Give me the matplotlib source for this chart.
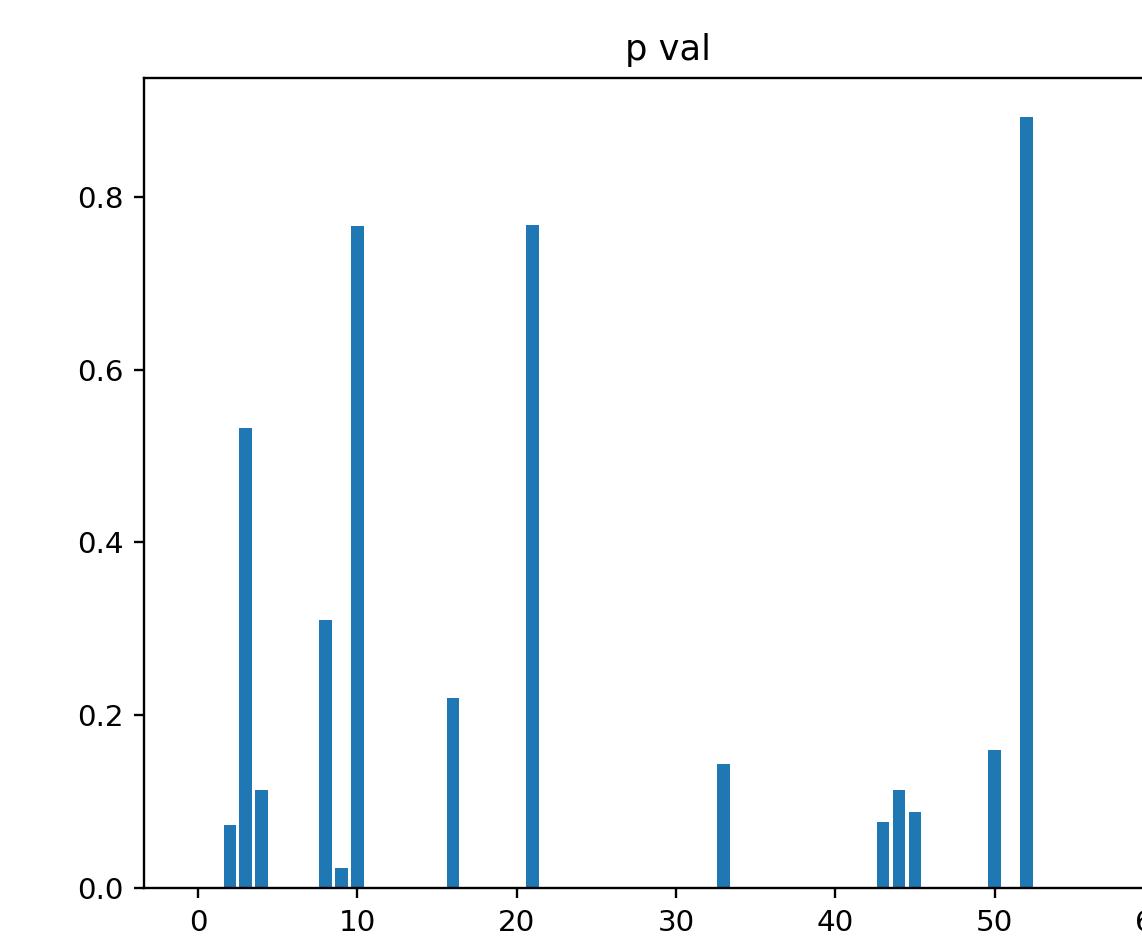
import numpy as np
import matplotlib
matplotlib.use("Agg")
import matplotlib.pyplot as plt

# p values per feature index (0..59), most are zero
n_features = 60
nonzero_idx = [2, 3, 4, 8, 9, 10, 16, 21, 33, 43, 44, 45, 50, 52]
nonzero_pval = [0.073, 0.533, 0.114, 0.310, 0.023, 0.766, 0.220, 0.768,
                0.144, 0.076, 0.113, 0.088, 0.160, 0.893]

p_val = np.zeros(n_features)
p_val[nonzero_idx] = nonzero_pval

scale = 2.113  # original was drawn at a higher dpi

fig = plt.figure(figsize=(11.42, 9.44), dpi=100)
ax = fig.add_axes([144 / 1142, 56 / 944, 1048 / 1142, 810 / 944])
ax.bar(range(n_features), p_val, color='#1f77b4')
ax.set_title("p val", fontsize=12 * scale, pad=6 * scale)
ax.tick_params(labelsize=10 * scale, length=3.5 * scale, width=0.8 * scale,
               pad=3.5 * scale)
for sp in ax.spines.values():
    sp.set_linewidth(0.8 * scale)

fig.savefig("out.png", dpi=100)
